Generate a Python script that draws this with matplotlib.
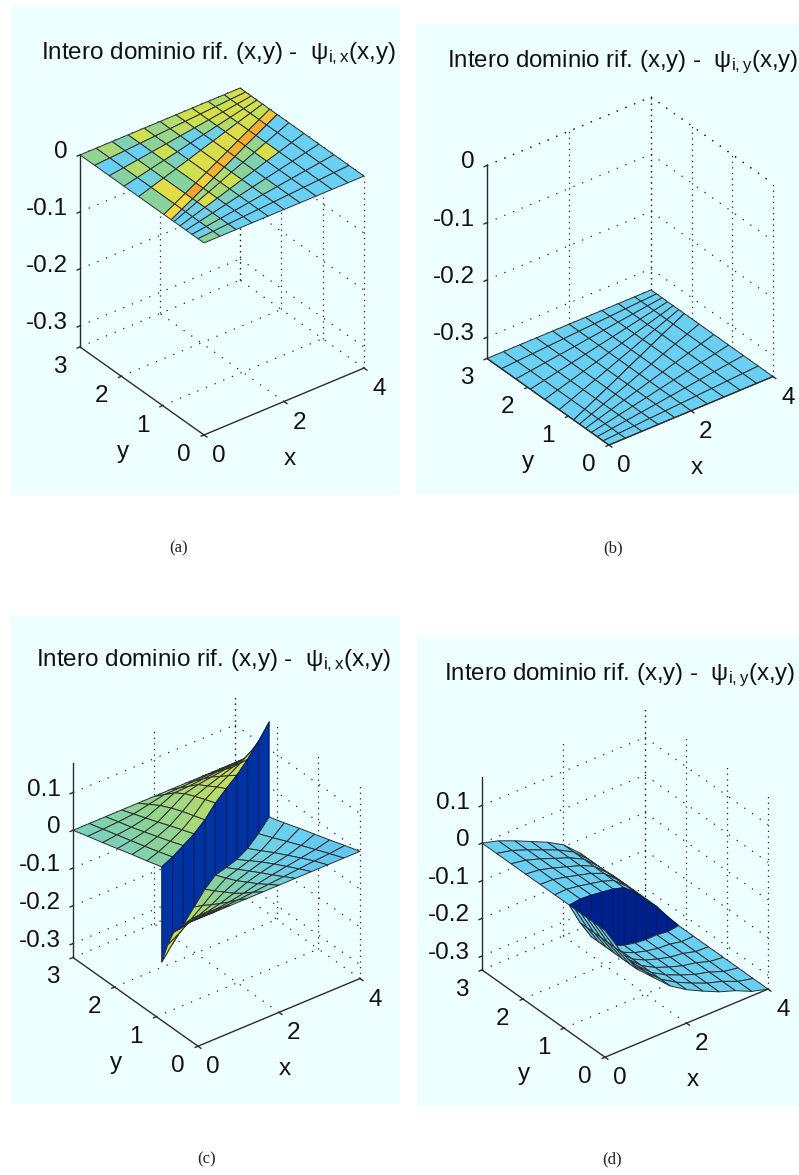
import numpy as np
import matplotlib
matplotlib.use('Agg')
import matplotlib.pyplot as plt
from matplotlib.colors import LinearSegmentedColormap
from matplotlib.patches import Rectangle
from mpl_toolkits.mplot3d import proj3d

plt.rcParams['font.family'] = ['Liberation Sans', 'DejaVu Sans']
plt.rcParams['mathtext.fontset'] = 'custom'
plt.rcParams['mathtext.rm'] = 'Liberation Sans'
plt.rcParams['mathtext.it'] = 'Liberation Sans:italic'
plt.rcParams['mathtext.bf'] = 'Liberation Sans:bold'

W, H = 799, 1175

x_ticks = [0, 2, 4]
y_ticks = [0, 1, 2, 3]
z_ticks_top = [-0.3, -0.2, -0.1, 0]
z_ticks_bot = [-0.3, -0.2, -0.1, 0, 0.1]

# mesh nodes, same for all the panels (rows 6 and 7 are the two sides of the crack)
x_nodes = [0, 0.4, 0.8, 1.2, 1.6, 2.0, 2.4, 2.8, 3.2, 3.6, 4.0]
y_mesh = [
    [3, 3, 3, 3, 3, 3, 3, 3, 3, 3, 3],
    [2.645, 2.667, 2.688, 2.71, 2.732, 2.754, 2.776, 2.798, 2.82, 2.842, 2.863],
    [2.29, 2.333, 2.377, 2.42, 2.463, 2.508, 2.552, 2.597, 2.64, 2.683, 2.727],
    [1.935, 2.0, 2.065, 2.13, 2.195, 2.263, 2.328, 2.395, 2.46, 2.525, 2.59],
    [1.58, 1.667, 1.753, 1.84, 1.927, 2.017, 2.103, 2.193, 2.28, 2.367, 2.453],
    [1.225, 1.333, 1.442, 1.55, 1.658, 1.771, 1.879, 1.992, 2.10, 2.208, 2.317],
    [0.87, 1.0, 1.13, 1.26, 1.39, 1.525, 1.655, 1.79, 1.92, 2.05, 2.18],
    [0.87, 1.0, 1.13, 1.26, 1.39, 1.525, 1.655, 1.79, 1.92, 2.05, 2.18],
    [0.725, 0.833, 0.942, 1.05, 1.158, 1.271, 1.379, 1.492, 1.6, 1.708, 1.817],
    [0.58, 0.667, 0.753, 0.84, 0.927, 1.017, 1.103, 1.193, 1.28, 1.367, 1.453],
    [0.435, 0.5, 0.565, 0.63, 0.695, 0.763, 0.828, 0.895, 0.96, 1.025, 1.09],
    [0.29, 0.333, 0.377, 0.42, 0.463, 0.508, 0.552, 0.597, 0.64, 0.683, 0.727],
    [0.145, 0.167, 0.188, 0.21, 0.232, 0.254, 0.276, 0.298, 0.32, 0.342, 0.363],
    [0, 0, 0, 0, 0, 0, 0, 0, 0, 0, 0],
]

# in panel (a) the coloured band straddles the crack line
y_band_top = [0.97, 1.1, 1.23, 1.36, 1.49, 1.625, 1.755, 1.89, 2.02, 2.15, 2.28]
y_band_bot = [0.79, 0.92, 1.05, 1.18, 1.31, 1.445, 1.575, 1.71, 1.84, 1.97, 2.10]

# panel (c) heights
z_c = [
    [0, 0, 0, 0, 0, 0, 0, 0, 0, 0, 0],
    [.012, .011, .011, .012, .018, .024, .022, .021, .020, .018, .017],
    [.023, .022, .021, .024, .036, .048, .044, .042, .040, .037, .034],
    [.035, .033, .033, .036, .050, .065, .066, .063, .060, .056, .052],
    [.047, .044, .045, .049, .062, .077, .080, .080, .080, .080, .080],
    [.058, .056, .057, .061, .072, .088, .095, .098, .104, .112, .120],
    [.07, .068, .07, .073, .082, .098, .108, .115, .129, .148, .172],
    [-.182, -.162, -.14, -.121, -.102, -.093, -.101, -.108, -.107, -.096, -.08],
    [-.125, -.12, -.11, -.10, -.088, -.081, -.084, -.088, -.088, -.08, -.067],
    [-.08, -.085, -.085, -.082, -.073, -.068, -.067, -.068, -.068, -.063, -.053],
    [-.06, -.058, -.062, -.062, -.058, -.052, -.05, -.05, -.05, -.047, -.04],
    [-.036, -.038, -.041, -.042, -.04, -.036, -.034, -.033, -.032, -.031, -.027],
    [-.017, -.019, -.02, -.02, -.019, -.018, -.017, -.016, -.015, -.015, -.013],
    [0, 0, 0, 0, 0, 0, 0, 0, 0, 0, 0],
]

# panel (d) heights: each side depends on x only
z_d_upper = [0, -.012, -.03, -.05, -.07, -.095, -.135, -.185, -.23, -.285, -.337]
z_d_lower = [0, -.075, -.14, -.18, -.22, -.248, -.27, -.29, -.305, -.325, -.337]

# flat surfaces of (a) and (b)
z_a_level = 0.0
z_b_level = -0.337

# cell colour values (row 6 is the wall across the crack)
c_a = [
    [.58, .64, .52, .72, .60, .66, .74, .72, .66, .74],
    [.40, .42, .40, .56, .60, .68, .72, .76, .72, .76],
    [.55, .66, .56, .72, .50, .42, .60, .74, .76, .74],
    [.40, .46, .58, .50, .40, .40, .42, .66, .74, .72],
    [.56, .80, .55, .72, .78, .76, .78, .78, .74, .70],
    [.88, .86, 1.0, .90, .97, .95, .97, .98, .98, .92],
    [.88, .86, 1.0, .90, .97, .95, .97, .98, .98, .92],
    [.40, .46, .62, .60, .66, .50, .60, .58, .40, .40],
    [.40, .42, .78, .64, .72, .56, .52, .76, .40, .40],
    [.40, .42, .42, .50, .50, .42, .40, .40, .40, .40],
    [.40, .54, .40, .40, .42, .52, .40, .40, .40, .40],
    [.42, .50, .40, .40, .40, .40, .40, .40, .40, .40],
    [.56, .48, .40, .40, .40, .40, .40, .40, .40, .40],
]
c_c = [
    [.50, .52, .54, .57, .59, .62, .64, .66, .68, .70],
    [.50, .53, .55, .58, .60, .63, .65, .67, .69, .71],
    [.51, .54, .56, .59, .61, .64, .66, .68, .70, .72],
    [.52, .55, .57, .60, .62, .65, .67, .69, .71, .72],
    [.53, .56, .58, .61, .64, .66, .68, .70, .72, .73],
    [.54, .57, .60, .63, .65, .67, .69, .71, .73, .74],
    [.08, .08, .08, .08, .08, .08, .08, .08, .08, .08],
    [.72, .70, .66, .60, .55, .50, .46, .44, .43, .42],
    [.72, .68, .63, .58, .53, .49, .45, .43, .42, .41],
    [.71, .66, .61, .56, .51, .47, .44, .42, .41, .40],
    [.70, .65, .60, .55, .50, .46, .43, .41, .40, .39],
    [.68, .63, .58, .53, .49, .45, .42, .40, .39, .38],
    [.66, .61, .56, .52, .48, .44, .41, .39, .38, .38],
]
c_sheet = 0.40
c_wall_d = 0.0

titles = [r'Intero dominio rif. (x,y) -  $\mathrm{\psi_{i,x}}$(x,y)',
          r'Intero dominio rif. (x,y) -  $\mathrm{\psi_{i,y}}$(x,y)',
          r'Intero dominio rif. (x,y) -  $\mathrm{\psi_{i,x}}$(x,y)',
          r'Intero dominio rif. (x,y) -  $\mathrm{\psi_{i,y}}$(x,y)']
captions = ['(a)', '(b)', '(c)', '(d)']

cmap = LinearSegmentedColormap.from_list('campo', [
    (0.0, '#00208c'), (0.1, '#0038a8'), (0.4, '#69d0f3'), (0.55, '#84d2a0'),
    (0.72, '#cde050'), (0.88, '#f5d840'), (1.0, '#f5a52d')])

Y = np.array(y_mesh, dtype=float)
X = np.tile(x_nodes, (Y.shape[0], 1))
n_rows, n_cols = Y.shape

Y_a = Y.copy()
Y_a[5] = y_band_top
Y_a[6] = y_band_bot
Y_a[7] = y_band_bot

Z_a = np.full(Y.shape, z_a_level)
Z_b = np.full(Y.shape, z_b_level)
Z_c = np.array(z_c)
Z_d = np.vstack([np.tile(z_d_upper, (7, 1)), np.tile(z_d_lower, (7, 1))])

C_a = np.array(c_a)
C_b = np.full((n_rows - 1, n_cols - 1), c_sheet)
C_c = np.array(c_c)
C_d = np.full((n_rows - 1, n_cols - 1), c_sheet)
C_d[6, :] = c_wall_d

AZ, EL = -127.5, 33.0
PHI = np.radians(37.5)
BG = '#eeffff'
DARK = '#2c2c2c'
TICK_FS = 17.5
fig = plt.figure(figsize=(W / 100, H / 100), dpi=100, facecolor='white')


def px(x, y):
    return x / W, 1 - y / H


def dotted(ax, xs, ys, zs, pat=(0, (1, 6.5))):
    ax.plot(xs, ys, zs, color='#222222', lw=0.9, ls=pat, zorder=1, clip_on=False)


def label(ax, x, y, z, s, dx, dy, ha='center', size=TICK_FS):
    X2, Y2, _ = proj3d.proj_transform(x, y, z, ax.get_proj())
    ax.annotate(s, xy=(X2, Y2), xytext=(dx, dy), textcoords='offset pixels',
                ha=ha, va='center', fontsize=size, color='#111111', annotation_clip=False)


def panel(bg, org, xend, yend, ztop, zlim, zticks, Ym, Z, C, title, title_xy, title_fs, cap, cap_xy):
    # bg = light rectangle in pixels, org/xend/yend/ztop = box corners in pixels
    fig.add_artist(Rectangle(px(bg[0], bg[3]), (bg[1] - bg[0]) / W, (bg[3] - bg[2]) / H,
                             transform=fig.transFigure, fc=BG, ec='none', zorder=-1))
    size = 500.0
    dims = np.array([(xend[0] - org[0]) / np.cos(PHI), (org[0] - yend[0]) / np.sin(PHI),
                     (yend[1] - ztop) / np.cos(np.radians(EL))])
    zoom = np.linalg.norm(dims) * 1.85 / (1.8294640721620434 * 25 / 24 * size)
    cx = org[0] + (xend[0] - org[0] + yend[0] - org[0]) / 2
    cy = org[1] + (xend[1] - org[1] + yend[1] - org[1]) / 2 - (yend[1] - ztop) / 2
    left = cx - 0.095 / 0.185 * size
    top = cy + 0.095 / 0.185 * size
    ax = fig.add_axes([left / W, 1 - top / H, size / W, size / H], projection='3d',
                      proj_type='ortho')
    ax.patch.set_visible(False)
    ax.set_axis_off()
    ax.computed_zorder = False
    ax.view_init(elev=EL, azim=AZ)
    ax.set_box_aspect(dims, zoom=zoom)
    ax.set_xlim(0, 4)
    ax.set_ylim(0, 3)
    ax.set_zlim(*zlim)
    z0, z1 = zlim

    # back walls and floor
    for z in list(zticks) + [z1]:
        if z == z1 and z1 != 0:
            continue
        dotted(ax, [0, 4], [3, 3], [z, z])
        dotted(ax, [4, 4], [3, 0], [z, z])
    for xt in x_ticks[1:]:
        dotted(ax, [xt, xt], [3, 3], [z0, z1], (0, (1, 3.5)))
        dotted(ax, [xt, xt], [0, 3], [z0, z0])
    for yt in y_ticks:
        dotted(ax, [4, 4], [yt, yt], [z0, z1], (0, (1, 3.5)))
        if yt > 0:
            dotted(ax, [0, 4], [yt, yt], [z0, z0])

    # far side of the crack, wall, near side: always painted in this order
    sk = dict(rstride=1, cstride=1, shade=False, antialiased=True)
    ax.plot_surface(X[:7], Ym[:7], Z[:7], facecolors=cmap(C[:6]), edgecolor='#2e2e2e',
                    linewidth=0.7, zorder=2, **sk)
    ax.plot_surface(X[6:8], Ym[6:8], Z[6:8], facecolors=cmap(C[6:7]), edgecolor='#001a66',
                    linewidth=0.7, zorder=3, **sk)
    ax.plot_surface(X[7:], Ym[7:], Z[7:], facecolors=cmap(C[7:]), edgecolor='#2e2e2e',
                    linewidth=0.7, zorder=4, **sk)

    # axes lines and ticks
    lk = dict(color=DARK, lw=1.0, zorder=5, clip_on=False)
    ax.plot([0, 0], [3, 3], [z0, z1], **lk)
    ax.plot([0, 0], [0, 3], [z0, z0], **lk)
    ax.plot([0, 4], [0, 0], [z0, z0], **lk)
    for z in zticks:
        ax.plot([-0.07, 0], [3, 3], [z, z], **lk)
        label(ax, 0, 3, z, f'{z:g}', -12, 3, ha='right')
    for xt in x_ticks:
        ax.plot([xt, xt], [0, -0.07], [z0, z0], **lk)
        label(ax, xt, 0, z0, str(xt), 15, -21)
    for yt in y_ticks:
        ax.plot([0, -0.07], [yt, yt], [z0, z0], **lk)
        label(ax, 0, yt, z0, str(yt), -20, -20)
    label(ax, 0, 1.0, z0, 'y', -40, -46)
    label(ax, 2, 0, z0, 'x', 6, -57)

    fig.text(*px(*title_xy), title, fontsize=title_fs, ha='left', va='center', color='#111111')
    fig.text(*px(*cap_xy), cap, fontsize=12, ha='center', va='center',
             family='Liberation Serif', color='#222222')


panel((10, 400, 6, 495), (204, 435), (364, 368), (80, 347), 155, (-0.337, 0), z_ticks_top,
      Y_a, Z_a, C_a, titles[0], (41, 54), 17.5, captions[0], (179, 548))
panel((416, 799, 23, 494), (609, 445), (773, 378), (487, 357), 164, (-0.337, 0), z_ticks_top,
      Y, Z_b, C_b, titles[1], (447, 62), 17.3, captions[1], (613, 548))
panel((10, 400, 615, 1104), (198, 1047), (360, 978), (73, 958), 764, (-0.337, 0.177), z_ticks_bot,
      Y, Z_c, C_c, titles[2], (36, 661), 17.5, captions[2], (207, 1159))
panel((417, 799, 637, 1106), (605, 1057), (768, 990), (482, 969), 776, (-0.337, 0.176), z_ticks_bot,
      Y, Z_d, C_d, titles[3], (444, 675), 17.3, captions[3], (612, 1159))

fig.savefig('out.png', dpi=100)
